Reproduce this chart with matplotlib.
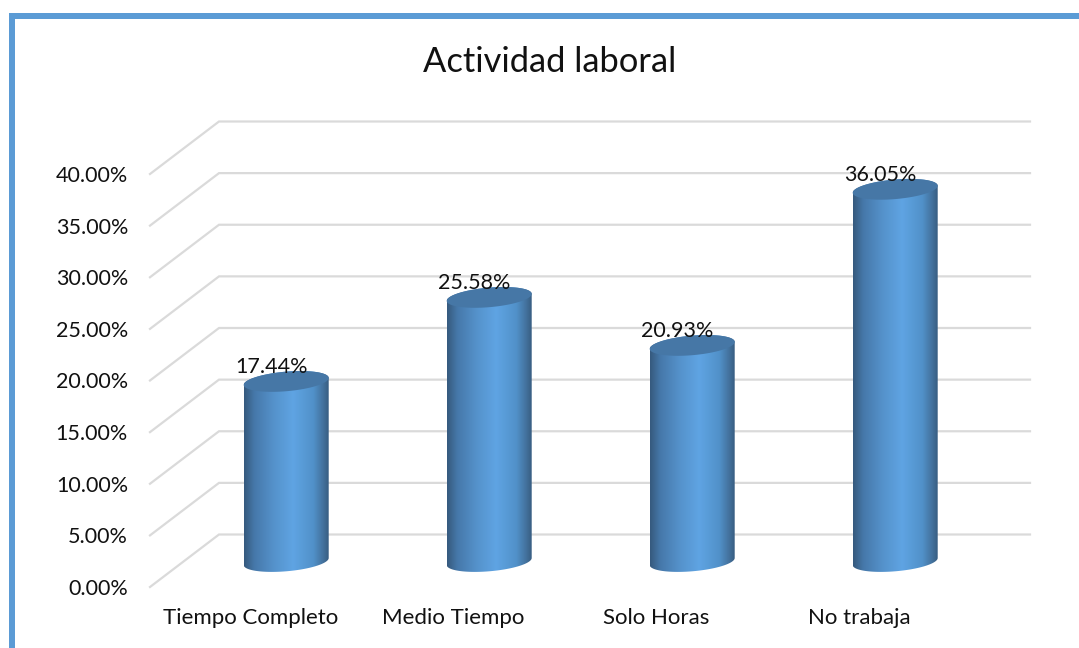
import numpy as np
import matplotlib
matplotlib.use('Agg')
import matplotlib.pyplot as plt
from matplotlib.colors import LinearSegmentedColormap
from matplotlib.patches import Polygon, Rectangle

categorias = ['Tiempo Completo', 'Medio Tiempo', 'Solo Horas', 'No trabaja']
valores = [17.44, 25.58, 20.93, 36.05]
ticks_y = [0, 5, 10, 15, 20, 25, 30, 35, 40]

plt.rcParams['font.family'] = ['Lato', 'DejaVu Sans']

# escala: un eje que llena la figura, 1 categoria = 203 px, 1% = 10.325 px
px_x = 1 / 203
px_y = 1 / 10.325
x_primera = 286.2
y_cero = 587

fig = plt.figure(figsize=(10.79, 6.48), dpi=100)
ax = fig.add_axes([0, 0, 1, 1])
xlim = (-x_primera * px_x, (1079 - x_primera) * px_x)
ylim = (-(648 - y_cero) * px_y, y_cero * px_y)
ax.axis('off')

# rejilla 3D: tramo diagonal y linea de la pared del fondo
x_frente = (150 - x_primera) * px_x
x_fondo = (219 - x_primera) * px_x
x_fin = (1030 - x_primera) * px_x
prof_y = 52.5 * px_y
for t in ticks_y:
    ax.plot([x_frente, x_fondo, x_fin], [t, t + prof_y, t + prof_y],
            color='#dadada', lw=1.6, solid_joinstyle='miter', zorder=1)
    ax.text((128 - x_primera) * px_x, t - 2 * px_y, f'{t:.2f}%', ha='right', va='center',
            fontsize=15.5, color='#111111', zorder=5)

# cilindros
degradado = LinearSegmentedColormap.from_list('cilindro', [
    (0.0, '#365a7e'), (0.12, '#4678aa'), (0.35, '#5592cb'),
    (0.58, '#5fa4e3'), (0.82, '#5191c9'), (0.93, '#44739f'), (1.0, '#385e82')])
a = 42.5 * px_x
k = 3.5 * px_y
b = 9.8 * px_y
base = 25.5 * px_y


def elipse(cx, cy, t):
    return cx + a * np.cos(t), cy + k * np.cos(t) + b * np.sin(t)


for i, v in enumerate(valores):
    tope = base + v
    x1, y1 = elipse(i, base, np.linspace(np.pi, 2 * np.pi, 60))
    x2, y2 = elipse(i, tope, np.linspace(0, np.pi, 60))
    cuerpo = Polygon(np.column_stack([np.r_[x1, x2], np.r_[y1, y2]]),
                     closed=True, fc='none', ec='none', zorder=3)
    ax.add_patch(cuerpo)
    img = ax.imshow(np.linspace(0, 1, 200).reshape(1, -1), cmap=degradado, aspect='auto',
                    extent=(i - a, i + a, base - 2, tope + 2), zorder=3)
    img.set_clip_path(cuerpo)
    x3, y3 = elipse(i, tope, np.linspace(0, 2 * np.pi, 120))
    ax.fill(x3, y3, color='#4677a6', lw=0, zorder=4)
    ax.text(i - 15 * px_x, v + 40 * px_y, f'{v:.2f}%', ha='center', va='center',
            fontsize=15.5, color='#111111', zorder=6)
    ax.text(i - 35.7 * px_x, (y_cero - 618) * px_y, categorias[i], ha='center', va='center',
            fontsize=16, color='#111111', zorder=6)

ax.set_xlim(xlim)
ax.set_ylim(ylim)

ax.text((549.5 - x_primera) * px_x, (y_cero - 62) * px_y, 'Actividad laboral', ha='center',
        va='center', fontsize=24.8, color='#111111')

# marco azul (solo arriba e izquierda)
ax.add_patch(Rectangle((9 / 1079, 1 - 19 / 648), 1 - 9 / 1079, 6 / 648, transform=ax.transAxes,
                       fc='#5b9bd5', ec='none', zorder=7))
ax.add_patch(Rectangle((9 / 1079, 0), 6 / 1079, 1 - 13 / 648, transform=ax.transAxes,
                       fc='#5b9bd5', ec='none', zorder=7))

fig.savefig('out.png', dpi=100)
